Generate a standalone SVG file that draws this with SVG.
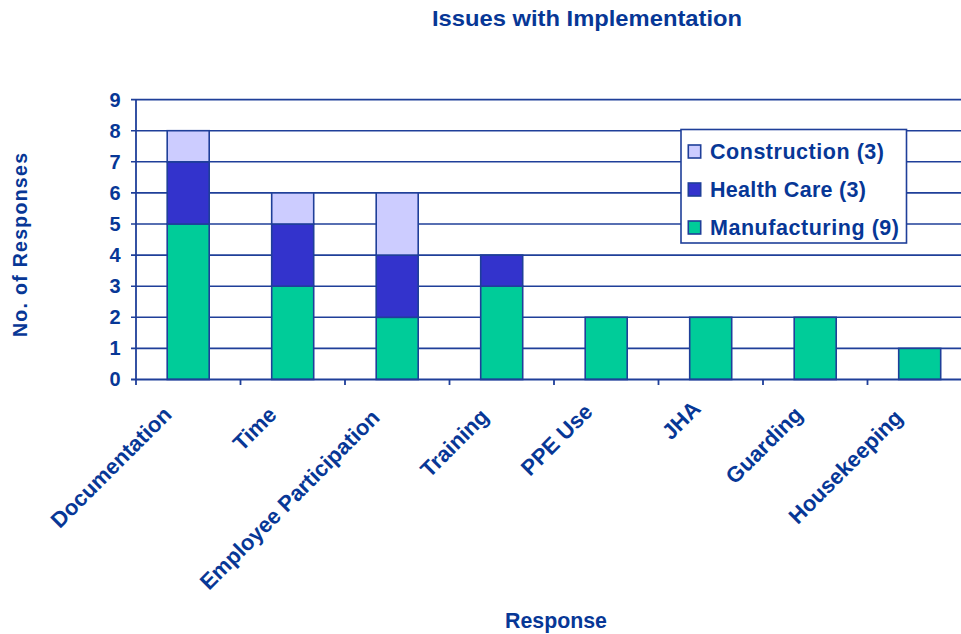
<svg xmlns="http://www.w3.org/2000/svg" width="961" height="634" viewBox="0 0 961 634">
<style>
text{font-family:"Liberation Sans",Arial,sans-serif;font-weight:bold;fill:#073796}
.grid{stroke:#1F3F99;stroke-width:1.6;fill:none}
.axis{stroke:#1F3F99;stroke-width:1.8;fill:none}
.bar{stroke:#1F3F99;stroke-width:1.6}
.m{fill:#00CC99}.h{fill:#3333CC}.c{fill:#CCCCFF}
.yt{font-size:20px;text-anchor:end}
.cat{font-size:22px;text-anchor:end}
.leg{font-size:21.5px}
</style>
<rect width="961" height="634" fill="#FFFFFF"/>
<text x="587" y="26" font-size="22.5" text-anchor="middle" textLength="310" lengthAdjust="spacingAndGlyphs">Issues with Implementation</text>
<g id="gridlines">
<line class="grid" x1="131" y1="99.6" x2="961" y2="99.6"/>
<line class="grid" x1="131" y1="130.7" x2="961" y2="130.7"/>
<line class="grid" x1="131" y1="161.8" x2="961" y2="161.8"/>
<line class="grid" x1="131" y1="192.9" x2="961" y2="192.9"/>
<line class="grid" x1="131" y1="224" x2="961" y2="224"/>
<line class="grid" x1="131" y1="255.1" x2="961" y2="255.1"/>
<line class="grid" x1="131" y1="286.2" x2="961" y2="286.2"/>
<line class="grid" x1="131" y1="317.3" x2="961" y2="317.3"/>
<line class="grid" x1="131" y1="348.4" x2="961" y2="348.4"/>
</g>
<g id="y-axis">
<line class="axis" x1="136" y1="99" x2="136" y2="380"/>
<text class="yt" x="120.5" y="106.5">9</text>
<text class="yt" x="120.5" y="137.6">8</text>
<text class="yt" x="120.5" y="168.7">7</text>
<text class="yt" x="120.5" y="199.8">6</text>
<text class="yt" x="120.5" y="230.9">5</text>
<text class="yt" x="120.5" y="262">4</text>
<text class="yt" x="120.5" y="293.1">3</text>
<text class="yt" x="120.5" y="324.2">2</text>
<text class="yt" x="120.5" y="355.3">1</text>
<text class="yt" x="120.5" y="386.4">0</text>
<text transform="translate(27,245) rotate(-90)" font-size="19.5" text-anchor="middle" textLength="184" lengthAdjust="spacing">No. of Responses</text>
</g>
<g id="bar-documentation">
<rect class="bar m" x="167.2" y="224" width="42" height="155.5"/>
<rect class="bar h" x="167.2" y="161.8" width="42" height="62.2"/>
<rect class="bar c" x="167.2" y="130.7" width="42" height="31.1"/>
</g>
<g id="bar-time">
<rect class="bar m" x="271.7" y="286.2" width="42" height="93.3"/>
<rect class="bar h" x="271.7" y="224" width="42" height="62.2"/>
<rect class="bar c" x="271.7" y="192.9" width="42" height="31.1"/>
</g>
<g id="bar-employee-participation">
<rect class="bar m" x="376.2" y="317.3" width="42" height="62.2"/>
<rect class="bar h" x="376.2" y="255.1" width="42" height="62.2"/>
<rect class="bar c" x="376.2" y="192.9" width="42" height="62.2"/>
</g>
<g id="bar-training">
<rect class="bar m" x="480.7" y="286.2" width="42" height="93.3"/>
<rect class="bar h" x="480.7" y="255.1" width="42" height="31.1"/>
</g>
<g id="bar-ppe-use">
<rect class="bar m" x="585.2" y="317.3" width="42" height="62.2"/>
</g>
<g id="bar-jha">
<rect class="bar m" x="689.7" y="317.3" width="42" height="62.2"/>
</g>
<g id="bar-guarding">
<rect class="bar m" x="794.2" y="317.3" width="42" height="62.2"/>
</g>
<g id="bar-housekeeping">
<rect class="bar m" x="898.7" y="348.4" width="42" height="31.1"/>
</g>
<g id="x-axis">
<line class="axis" x1="131" y1="379.5" x2="961" y2="379.5"/>
<line class="axis" x1="136" y1="379.5" x2="136" y2="385"/>
<line class="axis" x1="240.5" y1="379.5" x2="240.5" y2="385"/>
<line class="axis" x1="345" y1="379.5" x2="345" y2="385"/>
<line class="axis" x1="449.5" y1="379.5" x2="449.5" y2="385"/>
<line class="axis" x1="554" y1="379.5" x2="554" y2="385"/>
<line class="axis" x1="658.5" y1="379.5" x2="658.5" y2="385"/>
<line class="axis" x1="763" y1="379.5" x2="763" y2="385"/>
<line class="axis" x1="867.5" y1="379.5" x2="867.5" y2="385"/>
<text class="cat" transform="translate(173,416) rotate(-45)">Documentation</text>
<text class="cat" transform="translate(278,416) rotate(-45)">Time</text>
<text class="cat" transform="translate(381,419) rotate(-45)">Employee Participation</text>
<text class="cat" transform="translate(490,418) rotate(-45)">Training</text>
<text class="cat" transform="translate(594,413) rotate(-45)">PPE Use</text>
<text class="cat" transform="translate(702,410) rotate(-45)">JHA</text>
<text class="cat" transform="translate(804,416) rotate(-45)">Guarding</text>
<text class="cat" transform="translate(904,419) rotate(-45)">Housekeeping</text>
<text x="556" y="628" font-size="21.5" text-anchor="middle" textLength="102" lengthAdjust="spacingAndGlyphs">Response</text>
</g>
<g id="legend">
<rect x="681" y="129.5" width="225.5" height="113.5" fill="#FFFFFF" stroke="#1F3F99" stroke-width="1.6"/>
<rect class="bar c" x="688.3" y="145" width="12.4" height="13"/>
<text class="leg" x="710" y="158.5" textLength="174" lengthAdjust="spacing">Construction (3)</text>
<rect class="bar h" x="688.3" y="183" width="12.4" height="13"/>
<text class="leg" x="710" y="196.5" textLength="156" lengthAdjust="spacing">Health Care (3)</text>
<rect class="bar m" x="688.3" y="221" width="12.4" height="13"/>
<text class="leg" x="710" y="234.5" textLength="189" lengthAdjust="spacing">Manufacturing (9)</text>
</g>
</svg>
